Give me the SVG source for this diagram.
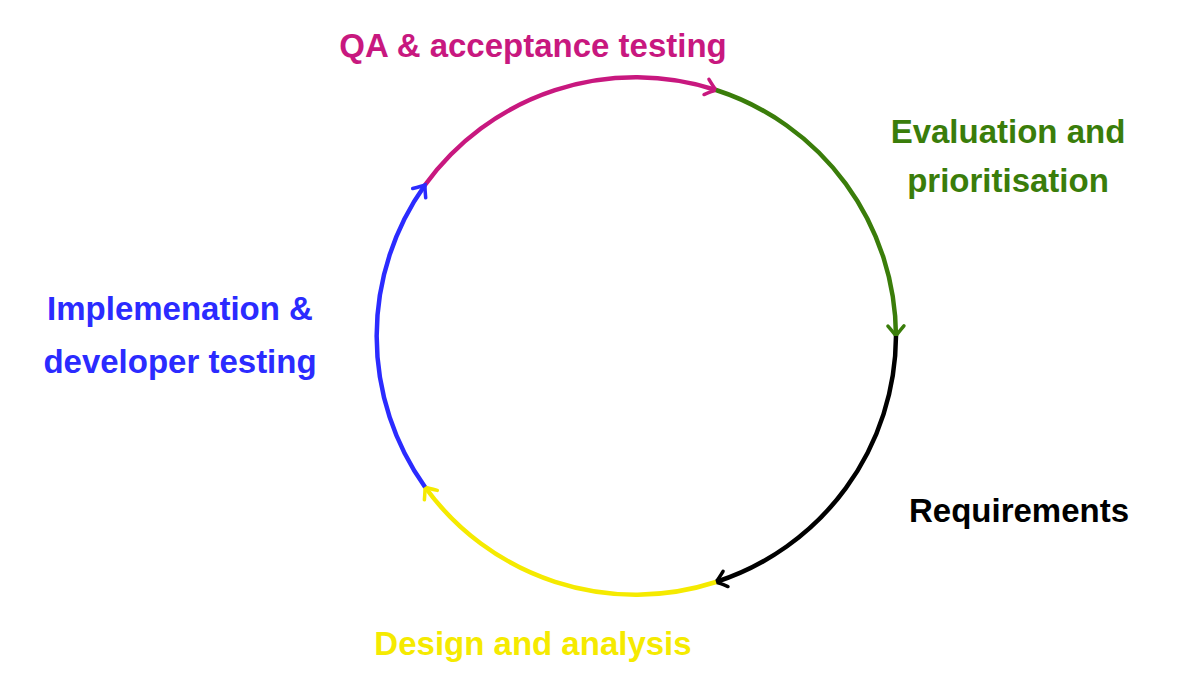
<svg xmlns="http://www.w3.org/2000/svg" width="1196" height="675" viewBox="0 0 1196 675">
<style>
text{font-family:"Liberation Sans",Arial,sans-serif;font-weight:bold;font-size:33px;text-anchor:middle}
.a{fill:none;stroke-width:4.5}
</style>
<defs>
<marker id="mm" markerUnits="userSpaceOnUse" viewBox="-12 -10 14 20" markerWidth="14" markerHeight="20" refX="0" refY="0" orient="auto" overflow="visible"><path d="M-10,-8 Q-3,-2 0,0 Q-3,2 -10,8" fill="none" stroke="#c8187f" stroke-width="3.5" stroke-linecap="round"/></marker>
<marker id="mg" markerUnits="userSpaceOnUse" viewBox="-12 -10 14 20" markerWidth="14" markerHeight="20" refX="0" refY="0" orient="auto" overflow="visible"><path d="M-10,-8 Q-3,-2 0,0 Q-3,2 -10,8" fill="none" stroke="#3a7d0a" stroke-width="3.5" stroke-linecap="round"/></marker>
<marker id="mk" markerUnits="userSpaceOnUse" viewBox="-12 -10 14 20" markerWidth="14" markerHeight="20" refX="0" refY="0" orient="auto" overflow="visible"><path d="M-10,-8 Q-3,-2 0,0 Q-3,2 -10,8" fill="none" stroke="#000" stroke-width="3.5" stroke-linecap="round"/></marker>
<marker id="my" markerUnits="userSpaceOnUse" viewBox="-12 -10 14 20" markerWidth="14" markerHeight="20" refX="0" refY="0" orient="auto" overflow="visible"><path d="M-10,-8 Q-3,-2 0,0 Q-3,2 -10,8" fill="none" stroke="#f5ea00" stroke-width="3.5" stroke-linecap="round"/></marker>
<marker id="mb" markerUnits="userSpaceOnUse" viewBox="-12 -10 14 20" markerWidth="14" markerHeight="20" refX="0" refY="0" orient="auto" overflow="visible"><path d="M-10,-8 Q-3,-2 0,0 Q-3,2 -10,8" fill="none" stroke="#2b2bff" stroke-width="3.5" stroke-linecap="round"/></marker>
</defs>
<rect width="1196" height="675" fill="#fff"/>
<g id="connectors">
<path class="a" stroke="#c8187f" marker-end="url(#mm)" d="M425,185 A260,260 0 0 1 716,90"/>
<path class="a" stroke="#3a7d0a" marker-end="url(#mg)" d="M716,90 A260,260 0 0 1 896,336"/>
<path class="a" stroke="#000" marker-end="url(#mk)" d="M896,336 A260,260 0 0 1 716,582"/>
<path class="a" stroke="#f5ea00" marker-end="url(#my)" d="M716,582 A260,260 0 0 1 425,487"/>
<path class="a" stroke="#2b2bff" marker-end="url(#mb)" d="M425,487 A260,260 0 0 1 425,185"/>
</g>
<g id="qa"><text x="533" y="57" fill="#c8187f">QA &amp; acceptance testing</text></g>
<g id="eval"><text x="1008" y="143" fill="#3a7d0a">Evaluation and</text><text x="1008" y="192" fill="#3a7d0a">prioritisation</text></g>
<g id="req"><text x="1019" y="522" fill="#000">Requirements</text></g>
<g id="design"><text x="533" y="655" fill="#f5ea00">Design and analysis</text></g>
<g id="impl"><text x="180" y="320" fill="#2b2bff">Implemenation &amp;</text><text x="180" y="373" fill="#2b2bff">developer testing</text></g>
</svg>
